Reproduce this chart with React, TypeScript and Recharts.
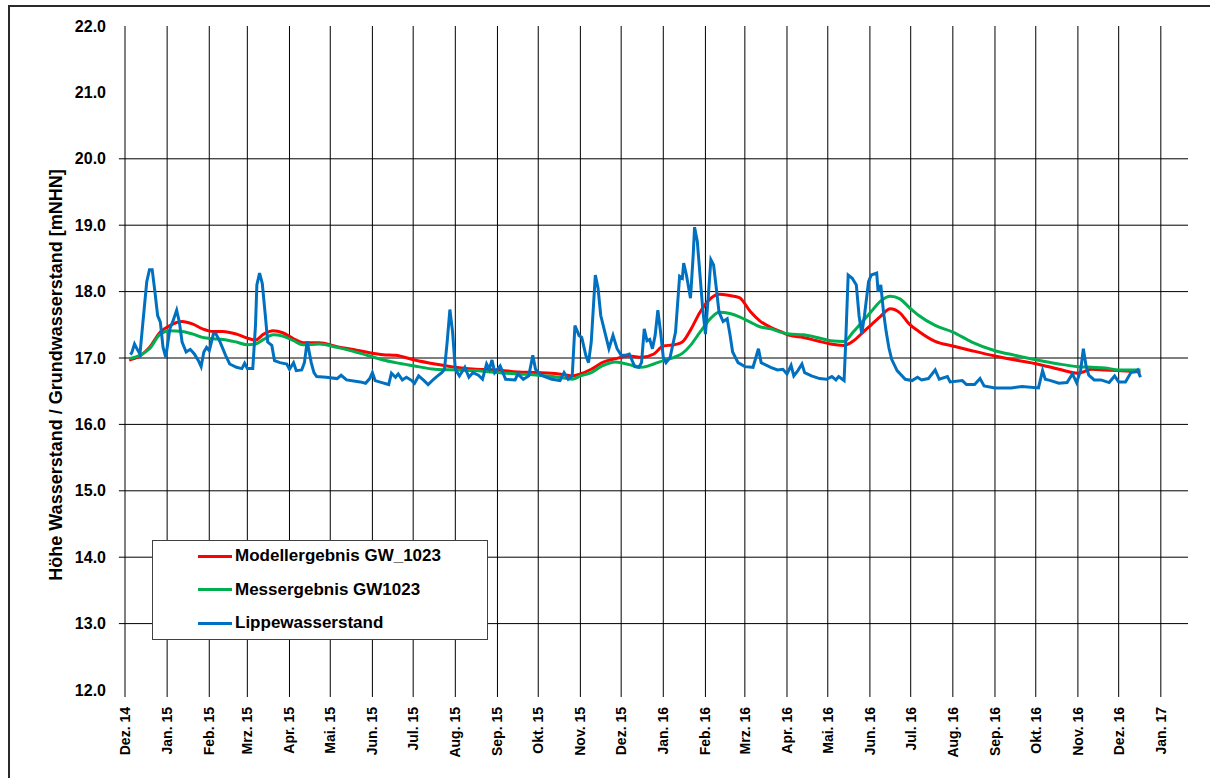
import React from 'react';
import { LineChart, Line, XAxis, YAxis, ReferenceLine, Legend } from 'recharts';

// Monate der x-Achse (Tage seit 01.12.2014 werden daraus berechnet)
const monatsLabels = [
  'Dez. 14', 'Jan. 15', 'Feb. 15', 'Mrz. 15', 'Apr. 15', 'Mai. 15', 'Jun. 15', 'Jul. 15', 'Aug. 15',
  'Sep. 15', 'Okt. 15', 'Nov. 15', 'Dez. 15', 'Jan. 16', 'Feb. 16', 'Mrz. 16', 'Apr. 16', 'Mai. 16',
  'Jun. 16', 'Jul. 16', 'Aug. 16', 'Sep. 16', 'Okt. 16', 'Nov. 16', 'Dez. 16', 'Jan. 17',
];
const yTicks = [12, 13, 14, 15, 16, 17, 18, 19, 20, 21, 22];
const gitterWerte = [13, 14, 15, 16, 17, 18, 19, 20];
const serienNamen = ['Modellergebnis GW_1023', 'Messergebnis GW1023', 'Lippewasserstand'];

// Grundwasser (Tage seit 01.12.2014)
const gwTage = [
  3, 11, 18, 26, 33, 42, 50, 57, 65, 72, 82, 90, 96, 102, 109, 116, 124, 131, 143, 156,
  168, 180, 190, 199, 213, 228, 243, 258, 274, 289, 304, 319, 329, 335, 343, 351, 361, 371, 380, 389,
  396, 404, 410, 416, 423, 431, 437, 445, 452, 460, 467, 475, 482, 489, 499, 509, 519, 529, 536, 543,
  549, 556, 563, 570, 577, 584, 596, 609, 623, 640, 655, 671, 687, 701, 711, 721, 731, 740, 747,
];
const modellWerte = [
  16.97, 17.03, 17.16, 17.39, 17.49, 17.55, 17.51, 17.44, 17.40, 17.40,
  17.36, 17.30, 17.27, 17.36, 17.41, 17.38, 17.29, 17.23, 17.23, 17.17,
  17.13, 17.08, 17.05, 17.04, 16.97, 16.91, 16.86, 16.83, 16.82, 16.79,
  16.78, 16.76, 16.73, 16.76, 16.83, 16.93, 16.99, 17.03, 17.01, 17.06,
  17.18, 17.20, 17.24, 17.42, 17.69, 17.90, 17.96, 17.94, 17.91, 17.70,
  17.56, 17.46, 17.40, 17.34, 17.31, 17.26, 17.21, 17.19, 17.26, 17.39,
  17.50, 17.63, 17.74, 17.68, 17.51, 17.40, 17.25, 17.18, 17.11, 17.03,
  16.97, 16.91, 16.83, 16.77, 16.83, 16.82, 16.81, 16.80, 16.79,
];
const messWerte = [
  16.99, 17.04, 17.14, 17.36, 17.41, 17.40, 17.36, 17.31, 17.29, 17.28,
  17.24, 17.20, 17.21, 17.28, 17.35, 17.33, 17.26, 17.20, 17.21, 17.16,
  17.10, 17.03, 16.97, 16.93, 16.88, 16.83, 16.82, 16.81, 16.78, 16.76,
  16.74, 16.71, 16.68, 16.73, 16.78, 16.88, 16.94, 16.90, 16.86, 16.91,
  16.96, 17.01, 17.07, 17.19, 17.39, 17.60, 17.69, 17.67, 17.62, 17.54,
  17.47, 17.44, 17.39, 17.36, 17.35, 17.31, 17.26, 17.25, 17.40, 17.56,
  17.70, 17.86, 17.93, 17.89, 17.76, 17.64, 17.49, 17.39, 17.24, 17.11,
  17.04, 16.97, 16.91, 16.87, 16.86, 16.85, 16.82, 16.82, 16.82,
];

// Lippe (Tage seit 01.12.2014)
const lippeTage = [
  4, 5, 7, 9, 11, 13, 16, 18, 20, 22, 24, 26, 28, 30, 33, 35, 38, 40, 42, 45,
  48, 51, 54, 56, 58, 60, 62, 65, 67, 70, 74, 77, 82, 86, 88, 90, 94, 96, 97, 99,
  101, 103, 105, 108, 110, 114, 119, 121, 124, 126, 130, 132, 134, 137, 139, 141, 148, 156, 159, 163,
  173, 177, 180, 182, 184, 189, 194, 196, 199, 201, 204, 207, 211, 213, 216, 220, 223, 227, 230, 233,
  235, 237, 239, 241, 243, 246, 250, 253, 256, 260, 263, 266, 268, 270, 272, 276, 280, 287, 289, 293,
  297, 300, 302, 306, 314, 320, 323, 326, 329, 331, 334, 336, 339, 341, 343, 346, 348, 350, 353, 356,
  359, 362, 365, 368, 371, 375, 378, 380, 382, 384, 386, 388, 390, 392, 394, 396, 398, 401, 405, 408,
  410, 411, 413, 416, 418, 419, 421, 423, 425, 427, 429, 431, 433, 435, 437, 440, 443, 445, 447, 451,
  456, 462, 466, 468, 475, 480, 484, 487, 490, 492, 495, 498, 500, 505, 511, 516, 520, 523, 525, 529,
  530, 532, 535, 538, 540, 542, 544, 547, 549, 553, 554, 556, 558, 560, 562, 564, 568, 574, 579, 583,
  586, 591, 596, 599, 605, 607, 616, 619, 625, 629, 632, 640, 652, 660, 672, 675, 677, 681, 687, 693,
  697, 700, 703, 705, 707, 709, 713, 718, 724, 728, 731, 736, 740, 743, 745, 747,
];
const lippeWerte = [
  17.05, 17.08, 17.21, 17.13, 17.06, 17.50, 18.15, 18.33, 18.33, 18.00, 17.64, 17.54, 17.16, 17.01, 17.44, 17.54, 17.72, 17.54, 17.24, 17.09,
  17.13, 17.06, 16.96, 16.87, 17.09, 17.16, 17.11, 17.36, 17.36, 17.24, 17.04, 16.91, 16.86, 16.84, 16.92, 16.84, 16.84, 17.49, 18.10, 18.28,
  18.12, 17.69, 17.24, 17.19, 16.96, 16.93, 16.91, 16.83, 16.93, 16.81, 16.82, 16.93, 17.25, 16.93, 16.78, 16.72, 16.71, 16.69, 16.74, 16.67,
  16.64, 16.62, 16.69, 16.78, 16.66, 16.63, 16.60, 16.77, 16.71, 16.76, 16.67, 16.71, 16.66, 16.62, 16.73, 16.66, 16.60, 16.68, 16.73, 16.78,
  16.83, 17.24, 17.73, 17.39, 16.83, 16.73, 16.86, 16.71, 16.78, 16.74, 16.68, 16.91, 16.83, 16.97, 16.78, 16.88, 16.68, 16.67, 16.76, 16.68,
  16.73, 17.04, 16.83, 16.74, 16.68, 16.66, 16.78, 16.68, 16.73, 17.49, 17.34, 17.31, 17.04, 16.93, 17.24, 18.25, 18.05, 17.64, 17.39, 17.14,
  17.34, 17.14, 17.04, 17.04, 17.06, 16.87, 16.86, 16.93, 17.44, 17.26, 17.28, 17.14, 17.34, 17.72, 17.39, 17.01, 16.93, 17.01, 17.39, 18.23,
  18.20, 18.43, 18.25, 17.90, 18.55, 18.97, 18.76, 18.25, 17.74, 17.36, 17.90, 18.48, 18.40, 18.05, 17.69, 17.55, 17.59, 17.36, 17.09, 16.93,
  16.87, 16.86, 17.14, 16.93, 16.86, 16.82, 16.83, 16.76, 16.89, 16.73, 16.81, 16.91, 16.78, 16.73, 16.69, 16.68, 16.72, 16.67, 16.72, 16.66,
  17.14, 18.25, 18.20, 18.10, 17.64, 17.36, 17.64, 18.15, 18.25, 18.28, 18.00, 18.10, 17.69, 17.39, 17.15, 16.98, 16.81, 16.68, 16.66, 16.71,
  16.67, 16.69, 16.82, 16.68, 16.72, 16.64, 16.66, 16.60, 16.60, 16.69, 16.58, 16.55, 16.55, 16.57, 16.55, 16.81, 16.68, 16.66, 16.62, 16.63,
  16.76, 16.63, 16.81, 17.14, 16.88, 16.74, 16.67, 16.67, 16.63, 16.73, 16.64, 16.64, 16.78, 16.79, 16.82, 16.71,
];

const start = Date.UTC(2014, 11, 1);
const monatsTage = monatsLabels.map((_, i) => (Date.UTC(2014, 11 + i, 1) - start) / 86400000);

const gwData = gwTage.map((t, i) => ({ tag: t, modell: modellWerte[i], mess: messWerte[i] }));
const lippeData = lippeTage.map((t, i) => ({ tag: t, lippe: lippeWerte[i] }));

const font = '"Liberation Sans", Arial, sans-serif';

const XTick = ({ x, y, payload }: any) => {
  const i = monatsTage.indexOf(payload.value);
  const tx = x + 5;
  const ty = y + 8;
  return (
    <text x={tx} y={ty} transform={`rotate(-90, ${tx}, ${ty})`} textAnchor="end"
      fontFamily={font} fontSize={14} fontWeight="bold" fill="#000">
      {monatsLabels[i]}
    </text>
  );
};

const LegendBox = ({ payload }: any) => {
  const eintraege = [...(payload || [])].sort(
    (a: any, b: any) => serienNamen.indexOf(a.value) - serienNamen.indexOf(b.value)
  );
  return (
    <div style={{ position: 'relative', width: 336, height: 100, boxSizing: 'border-box', border: '1px solid #404040', background: '#fff', fontFamily: font }}>
      {eintraege.map((e: any, i: number) => (
        <div key={e.value} style={{ position: 'absolute', left: 45, top: 16 + i * 33.5 - 11, height: 20, display: 'flex', alignItems: 'center' }}>
          <span style={{ display: 'inline-block', width: 34, height: 3, background: e.color, marginRight: 3 }} />
          <span style={{ fontSize: 17, fontWeight: 'bold', color: '#000', whiteSpace: 'nowrap' }}>{e.value}</span>
        </div>
      ))}
    </div>
  );
};

export default function App() {
  return (
    <div style={{ position: 'absolute', left: 0, top: 0, width: 1210, height: 778, background: '#fff', overflow: 'hidden' }}>
      <div style={{ position: 'absolute', left: 8, top: 5, width: 1204, height: 775, boxSizing: 'border-box', border: '2px solid #2a2a2a' }} />
      <div style={{ position: 'absolute', left: 0, top: 0 }}>
        <LineChart width={1210} height={778} margin={{ top: 26, right: 22, bottom: 0, left: 0 }}>
          {monatsTage.map((t) => (
            <ReferenceLine key={'m' + t} x={t} stroke="#000" strokeWidth={1} />
          ))}
          {gitterWerte.map((v) => (
            <ReferenceLine key={v} segment={[{ x: -4.5, y: v }, { x: 782, y: v }]} ifOverflow="visible" stroke="#000" strokeWidth={1} />
          ))}
          <XAxis dataKey="tag" type="number" domain={[0, 782]} ticks={monatsTage} allowDataOverflow
            axisLine={false} tickLine={{ stroke: '#000' }} tickSize={7} tick={<XTick />} height={88} interval={0} />
          <YAxis type="number" domain={[12, 22]} ticks={yTicks} allowDataOverflow width={125}
            axisLine={false} tickLine={false} tickSize={6} tickMargin={13}
            tick={{ fontFamily: font, fontSize: 16, fontWeight: 'bold', fill: '#000' }}
            tickFormatter={(v: number) => v.toFixed(1)}
            label={{
              content: () => (
                <text x={62} y={375} transform="rotate(-90, 62, 375)" textAnchor="middle"
                  fontFamily={font} fontSize={18} fontWeight="bold" fill="#000">
                  Höhe Wasserstand / Grundwasserstand [mNHN]
                </text>
              ),
            }} />
          <Legend layout="horizontal" verticalAlign="middle" align="center" width={336} height={100}
            wrapperStyle={{ left: 152, top: 540, width: 336, height: 100 }} content={<LegendBox />} />
          <Line data={gwData} dataKey="modell" name={serienNamen[0]} type="monotone" stroke="#ff0000" strokeWidth={3} dot={false} isAnimationActive={false} />
          <Line data={gwData} dataKey="mess" name={serienNamen[1]} type="monotone" stroke="#00b050" strokeWidth={3} dot={false} isAnimationActive={false} />
          <Line data={lippeData} dataKey="lippe" name={serienNamen[2]} type="linear" stroke="#0070c0" strokeWidth={3} dot={false} isAnimationActive={false} />
        </LineChart>
      </div>
    </div>
  );
}
